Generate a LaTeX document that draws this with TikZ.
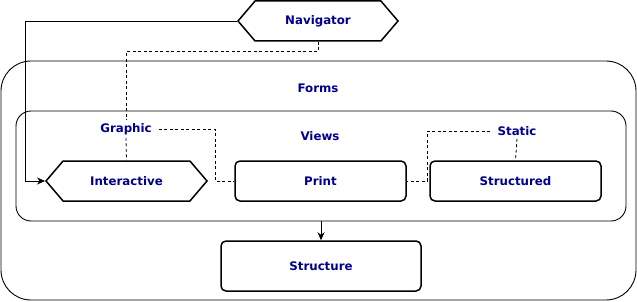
\documentclass[tikz,border=0pt]{standalone}
\usepackage{fontspec}
\setmainfont{DejaVu Sans}
\usetikzlibrary{shapes.symbols,arrows.meta}
\definecolor{labelblue}{RGB}{0,0,139}
\tikzset{
  x=1pt, y=-1pt,
  txt/.style={font=\fontsize{11.8}{14}\selectfont\bfseries, text=labelblue, inner sep=1pt},
  tag/.style={txt, inner xsep=7pt, inner ysep=3pt},
  container/.style={draw, line width=0.9pt, rectangle, inner sep=0pt},
  boxnode/.style={txt, draw=black, line width=1.5pt, rounded corners=5pt, minimum height=40pt},
  hexnode/.style={txt, draw=black, line width=1.5pt, signal, signal to=east and west,
    signal pointer angle=99, minimum height=40pt, inner xsep=0pt},
  dlink/.style={line width=0.8pt, dash pattern=on 3pt off 2.5pt},
  arr/.style={line width=0.8pt, -{Stealth[length=8pt,width=7pt]}},
}
\begin{document}
\begin{tikzpicture}
\useasboundingbox (0,0) rectangle (637,302);
% containers
\node[container, rounded corners=30pt, minimum width=635pt, minimum height=239pt] (forms) at (318.5,180.5) {};
\node[txt] (formslbl) at (318,88) {Forms};
\node[container, rounded corners=15pt, minimum width=610pt, minimum height=110pt] (views) at (321,166) {};
\node[txt] (viewslbl) at (320,136) {Views};
% nodes
\node[hexnode, minimum width=160pt] (nav) at (318,21) {Navigator};
\node[hexnode, minimum width=161pt] (inter) at (126.5,181) {Interactive};
\node[boxnode, minimum width=171pt] (print) at (320.5,181) {Print};
\node[boxnode, minimum width=171pt] (strd) at (515.5,181) {Structured};
\node[boxnode, minimum width=200pt, minimum height=50pt] (struct) at (321,266) {Structure};
\node[tag] (graphic) at (126,129) {Graphic};
\node[tag] (static) at (517,131) {Static};
% connectors
\draw[arr] (nav.west) -| ([xshift=-20pt]inter.west) -- (inter.west);
\draw[dlink] (nav.south) -- ++(0,10) -| (graphic.north);
\draw[dlink] (graphic.south) -- (inter.north);
\draw[dlink] (graphic.east) -| ([xshift=-19pt]print.west) -- (print.west);
\draw[dlink] (static.west) -| ([xshift=21pt]print.east) -- (print.east);
\draw[dlink] (static.south) -- (strd.north);
\draw[arr] (views.south) -- (struct.north);
\end{tikzpicture}
\end{document}
